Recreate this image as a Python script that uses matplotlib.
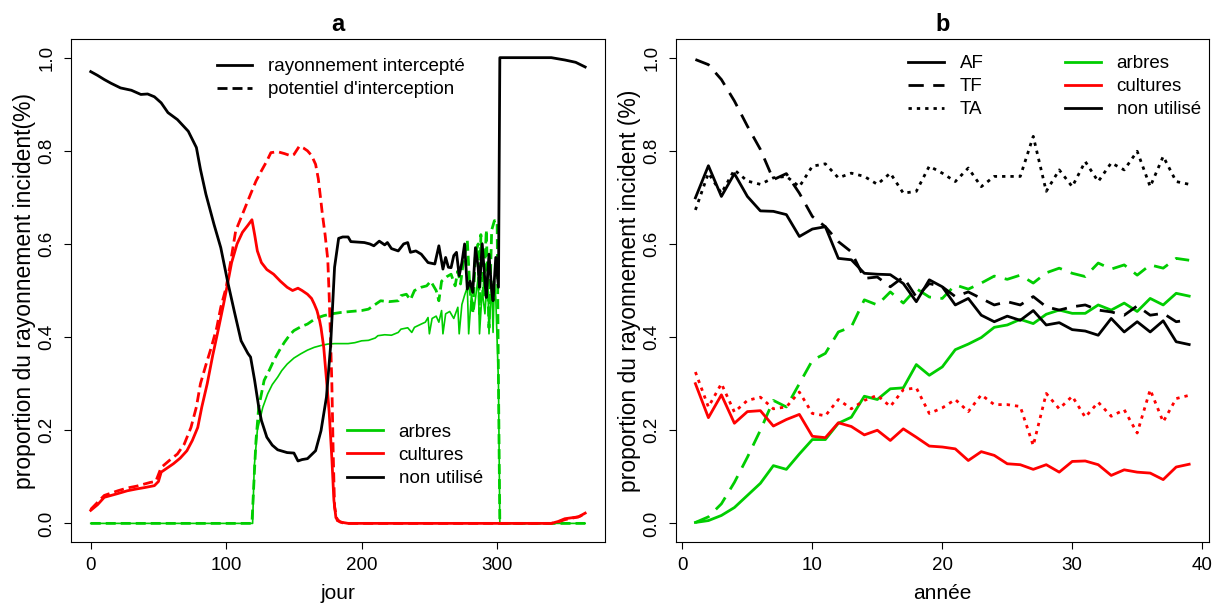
import matplotlib.pyplot as plt
import numpy as np

plt.rcParams['font.family'] = ['Liberation Sans', 'DejaVu Sans']
plt.rcParams['font.size'] = 13.5

# ---- panel a : daily course of light partitioning ----
jour_nu = [0, 5, 10, 15, 22, 30, 37, 42, 47, 52, 57, 64, 72, 78, 81, 85, 91, 96,
           101, 106, 111, 116, 118, 121, 124, 126, 130, 134, 138, 145, 150, 153,
           156, 160, 166, 170, 174, 177, 180, 183, 186, 190, 192, 197, 202, 206,
           209, 213, 217, 219, 222, 227, 231, 234, 236, 240, 244, 249, 254, 257,
           260, 262, 264, 266, 268, 270, 272, 274, 276, 278, 280, 282, 284, 286,
           287, 289, 291, 292, 294, 296, 297, 299, 301, 302, 320, 340, 350, 358, 365]
non_util_a = [0.970, 0.962, 0.953, 0.945, 0.935, 0.930, 0.921, 0.922, 0.916, 0.903,
              0.882, 0.867, 0.842, 0.807, 0.760, 0.707, 0.642, 0.592, 0.520, 0.455,
              0.392, 0.365, 0.357, 0.307, 0.250, 0.221, 0.185, 0.168, 0.158, 0.152,
              0.151, 0.134, 0.137, 0.139, 0.156, 0.199, 0.271, 0.378, 0.550, 0.612,
              0.615, 0.615, 0.605, 0.604, 0.603, 0.600, 0.596, 0.606, 0.598, 0.603,
              0.590, 0.585, 0.600, 0.603, 0.582, 0.585, 0.578, 0.560, 0.557, 0.596,
              0.546, 0.571, 0.550, 0.549, 0.575, 0.582, 0.532, 0.560, 0.600, 0.503,
              0.520, 0.496, 0.592, 0.550, 0.507, 0.600, 0.520, 0.485, 0.578, 0.500,
              0.478, 0.571, 0.507, 1.000, 1.000, 1.000, 0.995, 0.990, 0.980]

jour_cu = [0, 5, 10, 15, 20, 27, 34, 40, 47, 50, 52, 56, 61, 66, 71, 75, 79, 82,
           86, 90, 94, 98, 101, 104, 108, 112, 116, 119, 121, 123, 126, 130, 135,
           140, 145, 149, 153, 156, 160, 163, 165, 167, 169, 170, 172, 174, 176,
           178, 179.5, 181, 184, 190, 250, 300, 340, 345, 350, 355, 360, 365]
cultures_a = [0.028, 0.040, 0.056, 0.060, 0.064, 0.070, 0.074, 0.077, 0.081, 0.090,
              0.110, 0.118, 0.128, 0.140, 0.156, 0.178, 0.206, 0.250, 0.300, 0.360,
              0.414, 0.470, 0.514, 0.560, 0.600, 0.625, 0.640, 0.652, 0.620, 0.585,
              0.560, 0.545, 0.535, 0.520, 0.507, 0.500, 0.505, 0.500, 0.492, 0.483,
              0.471, 0.457, 0.435, 0.420, 0.378, 0.310, 0.240, 0.140, 0.050, 0.012,
              0.003, 0.000, 0.000, 0.000, 0.000, 0.004, 0.010, 0.012, 0.014, 0.022]

jour_cp = [0, 5, 10, 15, 20, 27, 34, 44, 48, 52, 58, 64, 69, 74, 78, 81, 85, 89,
           93, 96, 100, 103, 107, 113, 118, 122, 126, 130, 133, 138, 143, 148, 150,
           154, 157, 160, 163, 166, 168, 170, 171, 173, 175, 176, 177, 178, 179,
           180, 182, 187, 340, 345, 350, 355, 360, 365]
cultures_pot_a = [0.030, 0.045, 0.060, 0.065, 0.070, 0.076, 0.080, 0.088, 0.090,
                  0.120, 0.135, 0.149, 0.170, 0.206, 0.250, 0.300, 0.340, 0.378,
                  0.420, 0.464, 0.507, 0.557, 0.628, 0.671, 0.707, 0.735, 0.757,
                  0.778, 0.796, 0.798, 0.794, 0.789, 0.792, 0.810, 0.806, 0.800,
                  0.790, 0.771, 0.740, 0.690, 0.664, 0.620, 0.566, 0.490, 0.400,
                  0.300, 0.150, 0.035, 0.006, 0.000, 0.000, 0.003, 0.008, 0.011,
                  0.014, 0.020]

jour_ap = [0, 119, 120, 121, 122, 124, 128, 132, 135, 139, 143, 147, 150, 155, 160,
           166, 172, 178, 185, 192, 200, 205, 210, 214, 220, 227, 229, 233, 236,
           239, 244, 248, 251, 255, 257, 259, 263, 266, 269, 271, 273, 275, 278,
           280, 282, 284, 286, 287, 288, 290, 292, 294, 296, 298, 300, 301, 302, 365]
arbres_pot_a = [0.0, 0.0, 0.060, 0.120, 0.178, 0.249, 0.307, 0.330, 0.349, 0.370,
                0.389, 0.405, 0.414, 0.422, 0.428, 0.440, 0.446, 0.450, 0.453,
                0.455, 0.457, 0.460, 0.470, 0.478, 0.476, 0.478, 0.489, 0.492,
                0.480, 0.500, 0.507, 0.510, 0.520, 0.500, 0.478, 0.520, 0.530,
                0.535, 0.510, 0.542, 0.514, 0.560, 0.607, 0.500, 0.450, 0.580,
                0.600, 0.450, 0.620, 0.490, 0.630, 0.420, 0.630, 0.650, 0.650,
                0.300, 0.0, 0.0]

jour_ar = [0, 119.5, 120.7, 123, 127, 130.6, 134, 138, 141, 145, 150, 155, 160, 165,
           170, 175, 180, 190, 195, 200, 205, 210, 212, 217, 222, 227, 229, 234,
           237, 239, 244, 247, 249, 250, 252, 255, 257, 259, 260, 262, 265, 268,
           271, 272, 274, 276, 278, 279, 281, 283, 286, 287, 289, 291, 293, 294,
           296, 297, 298, 299, 301, 302, 365]
arbres_a = [0.0, 0.0, 0.121, 0.200, 0.249, 0.278, 0.298, 0.314, 0.328, 0.342, 0.355,
            0.364, 0.372, 0.378, 0.382, 0.385, 0.386, 0.386, 0.388, 0.392, 0.393,
            0.398, 0.403, 0.405, 0.404, 0.410, 0.417, 0.420, 0.410, 0.421, 0.428,
            0.432, 0.442, 0.407, 0.440, 0.445, 0.432, 0.457, 0.407, 0.450, 0.455,
            0.440, 0.464, 0.407, 0.470, 0.490, 0.507, 0.407, 0.490, 0.460, 0.528,
            0.407, 0.500, 0.450, 0.542, 0.407, 0.520, 0.410, 0.520, 0.485, 0.300,
            0.0, 0.0]

# ---- panel b : yearly means for agroforestry (AF), forest (TF), crop (TA) ----
annee = np.arange(1, 40)
arbres_AF = [0.002, 0.006, 0.017, 0.034, 0.060, 0.086, 0.124, 0.116, 0.149, 0.180,
             0.180, 0.215, 0.228, 0.273, 0.266, 0.289, 0.291, 0.341, 0.318, 0.336,
             0.373, 0.385, 0.399, 0.421, 0.426, 0.438, 0.429, 0.449, 0.458, 0.451,
             0.451, 0.469, 0.458, 0.473, 0.455, 0.483, 0.469, 0.494, 0.488]
cultures_AF = [0.300, 0.227, 0.276, 0.215, 0.240, 0.242, 0.209, 0.223, 0.234, 0.187,
               0.184, 0.216, 0.208, 0.190, 0.200, 0.178, 0.203, 0.185, 0.166, 0.164,
               0.160, 0.135, 0.154, 0.146, 0.128, 0.126, 0.116, 0.126, 0.110, 0.133,
               0.134, 0.126, 0.103, 0.115, 0.110, 0.108, 0.094, 0.121, 0.127]
non_util_AF = [0.699, 0.768, 0.702, 0.751, 0.702, 0.671, 0.670, 0.663, 0.616, 0.632,
               0.637, 0.569, 0.566, 0.537, 0.535, 0.534, 0.515, 0.476, 0.523, 0.508,
               0.469, 0.483, 0.447, 0.433, 0.445, 0.436, 0.457, 0.426, 0.431, 0.416,
               0.413, 0.404, 0.440, 0.411, 0.433, 0.411, 0.435, 0.390, 0.384]
arbres_TF = [0.002, 0.014, 0.042, 0.088, 0.142, 0.200, 0.264, 0.250, 0.300, 0.350,
             0.365, 0.411, 0.422, 0.480, 0.469, 0.497, 0.473, 0.504, 0.486, 0.483,
             0.512, 0.503, 0.516, 0.531, 0.524, 0.533, 0.516, 0.538, 0.548, 0.537,
             0.530, 0.559, 0.546, 0.555, 0.533, 0.555, 0.548, 0.569, 0.565]
non_util_TF = [0.996, 0.985, 0.953, 0.907, 0.853, 0.803, 0.738, 0.751, 0.709, 0.659,
               0.637, 0.605, 0.583, 0.526, 0.529, 0.508, 0.529, 0.486, 0.515, 0.508,
               0.487, 0.497, 0.483, 0.469, 0.476, 0.469, 0.487, 0.465, 0.458, 0.465,
               0.469, 0.458, 0.454, 0.447, 0.467, 0.447, 0.451, 0.433, 0.437]
cultures_TA = [0.325, 0.250, 0.300, 0.239, 0.264, 0.271, 0.246, 0.250, 0.282, 0.236,
               0.231, 0.266, 0.246, 0.264, 0.275, 0.251, 0.287, 0.291, 0.236, 0.248,
               0.266, 0.240, 0.276, 0.255, 0.255, 0.251, 0.167, 0.279, 0.246, 0.273,
               0.228, 0.260, 0.230, 0.244, 0.194, 0.287, 0.218, 0.268, 0.275]
non_util_TA = [0.673, 0.752, 0.709, 0.759, 0.735, 0.728, 0.742, 0.745, 0.723, 0.767,
               0.772, 0.742, 0.752, 0.745, 0.728, 0.752, 0.709, 0.713, 0.767, 0.752,
               0.734, 0.763, 0.723, 0.745, 0.745, 0.745, 0.831, 0.713, 0.759, 0.723,
               0.777, 0.734, 0.774, 0.759, 0.799, 0.723, 0.788, 0.734, 0.728]

GREEN = '#00cd00'
RED = '#ff0000'
BLACK = '#000000'
dash_a = (3.6, 1.8)
dash_b = (5.5, 3.4)
dot_b = (1.2, 1.8)
LABEL_FS = 15
YLABEL_FS = 16.5
leg_kw = dict(loc='upper left', frameon=False, borderpad=0, borderaxespad=0,
              handlelength=1.9, handletextpad=0.85, labelspacing=0.32)

fig = plt.figure(figsize=(12.15, 6.06), dpi=100)
axa = fig.add_axes([0.0584, 0.1056, 0.4395, 0.830])
axb = fig.add_axes([0.5561, 0.1056, 0.4389, 0.830])

# panel a
axa.plot(jour_ap, arbres_pot_a, color=GREEN, lw=2, dashes=dash_a)
axa.plot(jour_ar, arbres_a, color=GREEN, lw=1.2)
axa.plot(jour_cp, cultures_pot_a, color=RED, lw=2, dashes=dash_a)
axa.plot(jour_cu, cultures_a, color=RED, lw=2)
axa.plot(jour_nu, non_util_a, color=BLACK, lw=2)
axa.set_xlim(-14.6, 379.6)
axa.set_xticks([0, 100, 200, 300])
axa.set_xlabel('jour', fontsize=LABEL_FS, labelpad=7)
axa.set_ylabel("proportion du rayonnement incident(%)", fontsize=YLABEL_FS, labelpad=2)
axa.set_title('a', fontweight='bold', fontsize=17, pad=6)

h1, = axa.plot([], [], color=BLACK, lw=2)
h2, = axa.plot([], [], color=BLACK, lw=2, dashes=dash_a)
leg1 = axa.legend([h1, h2], ['rayonnement intercepté', "potentiel d'interception"],
                  bbox_to_anchor=(0.273, 0.962), **leg_kw)
axa.add_artist(leg1)
g1, = axa.plot([], [], color=GREEN, lw=2)
g2, = axa.plot([], [], color=RED, lw=2)
g3, = axa.plot([], [], color=BLACK, lw=2)
axa.legend([g1, g2, g3], ['arbres', 'cultures', 'non utilisé'],
           bbox_to_anchor=(0.517, 0.235), **leg_kw)

# panel b
axb.plot(annee, arbres_TF, color=GREEN, lw=2, dashes=dash_b)
axb.plot(annee, arbres_AF, color=GREEN, lw=2)
axb.plot(annee, cultures_TA, color=RED, lw=2, dashes=dot_b)
axb.plot(annee, cultures_AF, color=RED, lw=2)
axb.plot(annee, non_util_TA, color=BLACK, lw=2, dashes=dot_b)
axb.plot(annee, non_util_TF, color=BLACK, lw=2, dashes=dash_b)
axb.plot(annee, non_util_AF, color=BLACK, lw=2)
axb.set_xlim(-0.52, 40.52)
axb.set_xticks([0, 10, 20, 30, 40])
axb.set_xlabel('année', fontsize=LABEL_FS, labelpad=7)
axb.set_ylabel('proportion du rayonnement incident (%)', fontsize=YLABEL_FS, labelpad=2)
axb.set_title('b', fontweight='bold', fontsize=17, pad=6)

s1, = axb.plot([], [], color=BLACK, lw=2)
s2, = axb.plot([], [], color=BLACK, lw=2, dashes=dash_b)
s3, = axb.plot([], [], color=BLACK, lw=2, dashes=dot_b)
leg2 = axb.legend([s1, s2, s3], ['AF', 'TF', 'TA'],
                  bbox_to_anchor=(0.4356, 0.968), **leg_kw)
axb.add_artist(leg2)
c1, = axb.plot([], [], color=GREEN, lw=2)
c2, = axb.plot([], [], color=RED, lw=2)
c3, = axb.plot([], [], color=BLACK, lw=2)
axb.legend([c1, c2, c3], ['arbres', 'cultures', 'non utilisé'],
           bbox_to_anchor=(0.730, 0.968), **leg_kw)

for ax in (axa, axb):
    ax.set_ylim(-0.04, 1.04)
    ax.set_yticks([0.0, 0.2, 0.4, 0.6, 0.8, 1.0])
    ax.set_yticklabels(['0.0', '0.2', '0.4', '0.6', '0.8', '1.0'])
    ax.tick_params(direction='out', length=5, width=0.8, pad=6)
    plt.setp(ax.get_yticklabels(), rotation=90, va='center')
    for sp in ax.spines.values():
        sp.set_linewidth(0.8)

fig.savefig('out.png', dpi=100)
